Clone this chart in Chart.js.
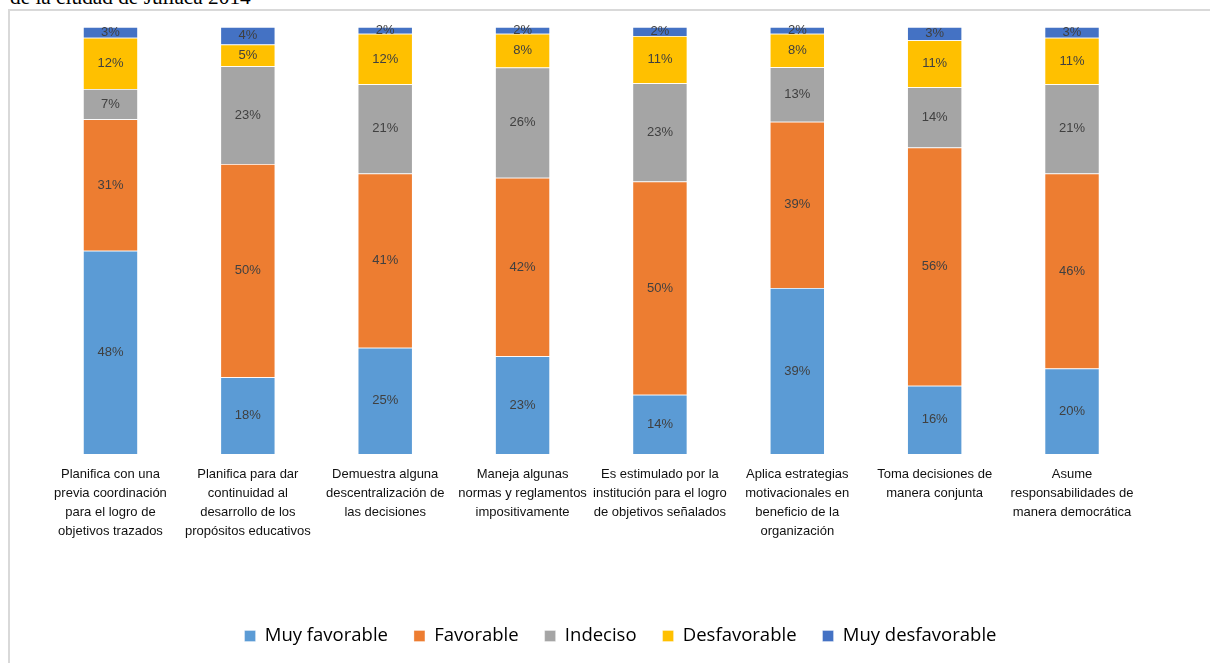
<!DOCTYPE html>
<html>
<head>
<meta charset="utf-8">
<script src="https://cdn.jsdelivr.net/npm/chart.js@4"></script>
<style>
    html, body { margin: 0; padding: 0; background: #fff; overflow: hidden; }
    #doc { position: absolute; left: 10px; top: -15px; line-height: 24px; font-family: "Liberation Serif", "Times New Roman", serif; font-size: 21.3px; color: #000; white-space: nowrap; }
    #frame { position: absolute; left: 8px; top: 9px; width: 1400px; height: 800px; border: 2px solid #d9d9d9; box-sizing: border-box; }
    #wrap { position: absolute; left: 0; top: 0; width: 1210px; height: 663px; }
</style>
</head>
<body>
<div id="doc">de la ciudad de Juliaca 2014</div>
<div id="frame"></div>
<div id="wrap"><canvas id="chart"></canvas></div>
<script>
// Data (percentages per item)
const categories = [
    ["Planifica con una", "previa coordinación", "para el logro de", "objetivos trazados"],
    ["Planifica para dar", "continuidad al", "desarrollo de los", "propósitos educativos"],
    ["Demuestra alguna", "descentralización de", "las decisiones"],
    ["Maneja algunas", "normas y reglamentos", "impositivamente"],
    ["Es estimulado por la", "institución para el logro", "de objetivos señalados"],
    ["Aplica estrategias", "motivacionales en", "beneficio de la", "organización"],
    ["Toma decisiones de", "manera conjunta"],
    ["Asume", "responsabilidades de", "manera democrática"]
];
const seriesNames = ["Muy favorable", "Favorable", "Indeciso", "Desfavorable", "Muy desfavorable"];
const muyFavorable    = [47.6, 18.0, 24.9, 22.9, 13.9, 38.9, 16.0, 20.0];
const favorable       = [30.8, 49.9, 40.8, 41.8, 49.9, 38.9, 55.8, 45.7];
const indeciso        = [7.1, 22.9, 20.9, 25.8, 23.0, 12.8, 14.1, 20.9];
const desfavorable    = [12.0, 5.1, 11.8, 7.9, 11.1, 7.8, 11.0, 10.9];
const muyDesfavorable = [2.5, 4.1, 1.6, 1.6, 2.1, 1.6, 3.1, 2.5];

const colors = ["#5b9bd5", "#ed7d31", "#a5a5a5", "#ffc000", "#4472c4"];
const values = [muyFavorable, favorable, indeciso, desfavorable, muyDesfavorable];

// percent labels in the middle of each segment
const segmentLabels = {
    id: 'segmentLabels',
    afterDatasetsDraw(chart) {
        const ctx = chart.ctx;
        ctx.save();
        ctx.font = '13px "Liberation Sans", Arial, sans-serif';
        ctx.fillStyle = '#404040';
        ctx.textAlign = 'center';
        ctx.textBaseline = 'middle';
        chart.data.datasets.forEach((ds, i) => {
            chart.getDatasetMeta(i).data.forEach((bar, j) => {
                ctx.fillText(Math.round(ds.data[j]) + '%', bar.x, (bar.y + bar.base) / 2);
            });
        });
        ctx.restore();
    }
};

new Chart(document.getElementById('chart'), {
    type: 'bar',
    data: {
        labels: categories,
        datasets: seriesNames.map((name, i) => ({
            label: name,
            data: values[i],
            backgroundColor: colors[i],
            borderColor: 'rgba(255,255,255,0.45)',
            borderWidth: 0.75,
            barPercentage: 0.4,
            categoryPercentage: 1.0
        }))
    },
    options: {
        responsive: true,
        maintainAspectRatio: false,
        animation: false,
        layout: { padding: { left: 31, right: 0, top: 27, bottom: 7.75 } },
        plugins: {
            tooltip: { enabled: false },
            legend: {
                position: 'bottom',
                labels: {
                    boxWidth: 11, boxHeight: 11, padding: 26, color: '#000',
                    font: { family: '"Open Sans", sans-serif', size: 18.5 }
                }
            }
        },
        scales: {
            x: {
                stacked: true,
                grid: { display: false },
                border: { display: false },
                ticks: {
                    color: '#111', padding: 3, maxRotation: 0, minRotation: 0, autoSkip: false,
                    font: { family: '"Liberation Sans", Arial, sans-serif', size: 13, lineHeight: 1.45 }
                },
                afterFit(s) { s.height = 146.75; }
            },
            y: {
                stacked: true, min: 0, max: 100,
                grid: { display: false }, border: { display: false }, ticks: { display: false },
                afterFit(s) { s.width = 10.8; }
            },
            y2: {
                type: 'linear', position: 'right', min: 0, max: 100,
                grid: { display: false }, border: { display: false }, ticks: { display: false },
                afterFit(s) { s.width = 69.3; }
            }
        }
    },
    plugins: [segmentLabels]
});
</script>
</body>
</html>
